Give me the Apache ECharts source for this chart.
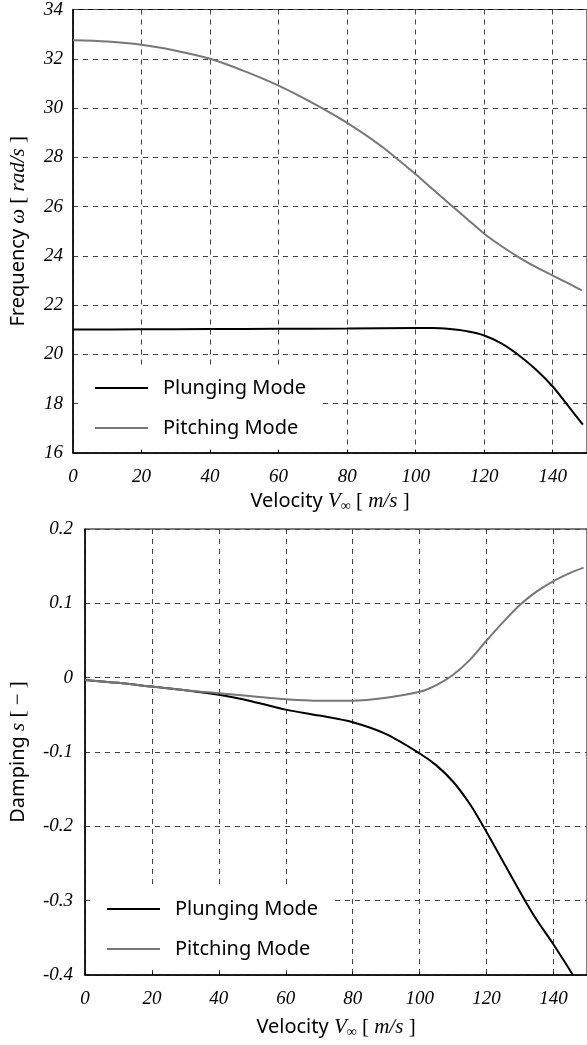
<!doctype html>
<html>
<head>
<meta charset="UTF-8">
<script src="https://cdn.jsdelivr.net/npm/echarts@6/dist/echarts.min.js"></script>
<style>
  html, body { margin: 0; padding: 0; background: #fff; }
  #main { width: 587px; height: 1045px; }
</style>
</head>
<body>
<div id="main"></div>
<script>
    // frequency plot
    var velPitchFreq = [0, 10, 20, 30, 40, 50, 60, 70, 80, 90, 100, 105, 110, 115, 120, 125, 130, 135, 140, 145, 148.5];
    var pitchFreq = [32.75, 32.70, 32.57, 32.33, 32.0, 31.5, 30.91, 30.2, 29.4, 28.45, 27.31, 26.7, 26.1, 25.5, 24.9, 24.4, 23.95, 23.55, 23.2, 22.85, 22.6];
    var velPlungeFreq = [0, 20, 40, 60, 80, 100, 105, 110, 115, 120, 125, 130, 135, 140, 144, 148.8];
    var plungeFreq = [21.01, 21.02, 21.03, 21.04, 21.05, 21.07, 21.07, 21.03, 20.94, 20.77, 20.45, 19.98, 19.40, 18.70, 18.0, 17.15];

    // damping plot
    var velPitchDamp = [0, 10, 20, 30, 40, 50, 60, 70, 80, 90, 100, 105, 110, 115, 120, 125, 130, 135, 140, 145, 149];
    var pitchDamp = [-0.003, -0.007, -0.012, -0.017, -0.021, -0.025, -0.029, -0.031, -0.031, -0.027, -0.019, -0.01, 0.004, 0.024, 0.05, 0.075, 0.098, 0.116, 0.13, 0.141, 0.148];
    var velPlungeDamp = [0, 10, 20, 30, 40, 50, 60, 70, 80, 90, 100, 105, 110, 115, 119, 125, 131.5, 135, 140, 145.8];
    var plungeDamp = [-0.003, -0.007, -0.012, -0.017, -0.023, -0.032, -0.043, -0.051, -0.06, -0.076, -0.102, -0.118, -0.14, -0.17, -0.2, -0.248, -0.3, -0.326, -0.359, -0.4];

    var seriesNames = ['Plunging Mode', 'Pitching Mode'];

    function pairs(xs, ys) {
        var out = [];
        for (var i = 0; i < xs.length; i++) {
            out.push([xs[i], ys[i]]);
        }
        return out;
    }

    var serif = 'Liberation Serif';
    var sans = 'Noto Sans';
    var nameRich = {
        s: {fontFamily: sans, fontSize: 20, color: '#000'},
        m: {fontFamily: serif, fontStyle: 'italic', fontSize: 21, color: '#000'},
        r: {fontFamily: serif, fontSize: 21, color: '#000'},
        sub: {fontFamily: serif, fontSize: 14, color: '#000', padding: [10, 0, 0, 0]}
    };
    var tickLabel = {fontFamily: serif, fontStyle: 'italic', fontSize: 19, color: '#000'};
    var dashed = {show: true, lineStyle: {color: '#444', type: [5, 5], width: 1}};

    function xAxis(idx, gap) {
        return {
            type: 'value', gridIndex: idx, min: 0, max: 150, interval: 20,
            name: '{s|Velocity }{m|V}{sub|∞}{r| [ }{m|m/s}{r| ]}',
            nameLocation: 'middle', nameGap: gap,
            nameTextStyle: {rich: nameRich},
            axisLine: {onZero: false, lineStyle: {color: '#000', width: 1.5}},
            axisTick: {show: true, inside: true, length: 3, lineStyle: {color: '#000'}},
            axisLabel: Object.assign({margin: 14, showMaxLabel: false}, tickLabel),
            splitLine: dashed
        };
    }

    // legend box sits on the plot, white so the grid lines stop at it
    function legend(left, top, padLeft) {
        return {
            data: seriesNames, orient: 'vertical', left: left, top: top,
            backgroundColor: '#fff', padding: [11, 15, 11, padLeft],
            icon: 'rect', itemWidth: 53, itemHeight: 2, itemGap: 20,
            textStyle: {fontFamily: sans, fontSize: 20, lineHeight: 14, color: '#000', padding: [0, 0, 0, 10]}
        };
    }

    function line(name, idx, xs, ys, color) {
        return {
            name: name, type: 'line', xAxisIndex: idx, yAxisIndex: idx,
            data: pairs(xs, ys), symbol: 'none', smooth: 0.3,
            lineStyle: {color: color, width: 2}, itemStyle: {color: color}
        };
    }

    var myChart = echarts.init(document.getElementById('main'));
    var option = {
        backgroundColor: '#fff',
        animation: false,
        grid: [
            {left: 70, top: 8, height: 445, right: -1, show: true, borderColor: '#000', borderWidth: 1},
            {left: 82, top: 529, height: 446, right: -1, show: true, borderColor: '#000', borderWidth: 1}
        ],
        xAxis: [xAxis(0, 36), xAxis(1, 40)],
        yAxis: [
            {
                type: 'value', gridIndex: 0, min: 16, max: 34, interval: 2,
                name: '{s|Frequency }{m|ω}{r| [ }{m|rad/s}{r| ]}',
                nameLocation: 'middle', nameGap: 44,
                nameTextStyle: {rich: nameRich},
                axisLine: {show: true, lineStyle: {color: '#000', width: 1.5}},
                axisTick: {show: false},
                axisLabel: Object.assign({margin: 10}, tickLabel),
                splitLine: dashed
            },
            {
                type: 'value', gridIndex: 1, min: -0.4, max: 0.2, interval: 0.1,
                name: '{s|Damping }{m|s}{r| [ − ]}',
                nameLocation: 'middle', nameGap: 56,
                nameTextStyle: {rich: nameRich},
                axisLine: {show: true, lineStyle: {color: '#000', width: 1.5}},
                axisTick: {show: false},
                axisLabel: Object.assign({margin: 12, formatter: function (v) {
                    return String(Math.round(v * 10) / 10);
                }}, tickLabel),
                splitLine: dashed
            }
        ],
        legend: [legend(82, 367, 13), legend(92, 888, 15)],
        series: [
            line(seriesNames[0], 0, velPlungeFreq, plungeFreq, '#000'),
            line(seriesNames[1], 0, velPitchFreq, pitchFreq, '#777'),
            line(seriesNames[0], 1, velPlungeDamp, plungeDamp, '#000'),
            line(seriesNames[1], 1, velPitchDamp, pitchDamp, '#777')
        ]
    };
    myChart.setOption(option);
</script>
</body>
</html>
